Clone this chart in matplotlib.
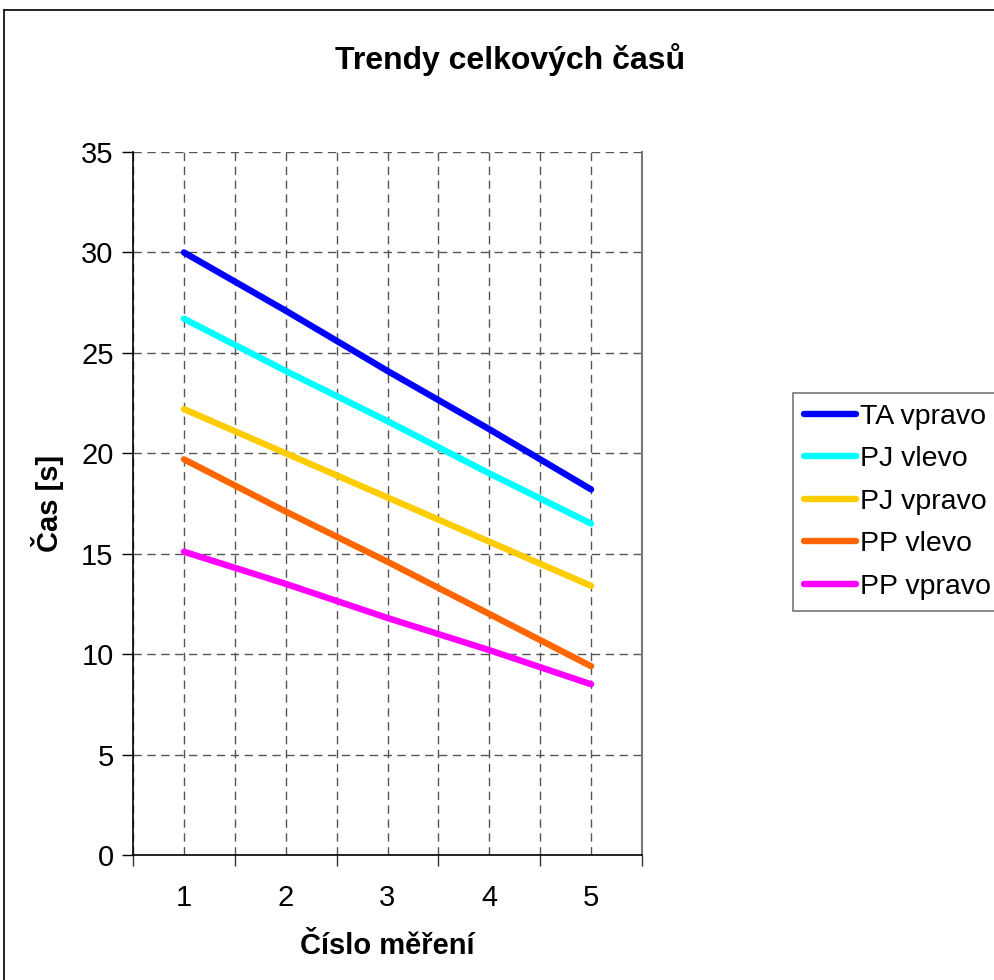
import matplotlib
matplotlib.use("Agg")
import matplotlib.pyplot as plt
from matplotlib.lines import Line2D

plt.rcParams['font.family'] = ['Liberation Sans', 'DejaVu Sans']

# data
mereni = [1, 2, 3, 4, 5]
series_names = ["TA vpravo", "PJ vlevo", "PJ vpravo", "PP vlevo", "PP vpravo"]
ta_vpravo = [30.0, 27.1, 24.1, 21.2, 18.2]
pj_vlevo = [26.7, 24.1, 21.6, 19.0, 16.5]
pj_vpravo = [22.2, 20.0, 17.8, 15.6, 13.4]
pp_vlevo = [19.7, 17.1, 14.6, 12.0, 9.4]
pp_vpravo = [15.1, 13.5, 11.8, 10.2, 8.5]
colors = ["#0000FF", "#00FFFF", "#FFCC00", "#FF6600", "#FF00FF"]

W, H = 994, 980
fig = plt.figure(figsize=(W / 100, H / 100), dpi=100)
ax = fig.add_axes([133 / W, 1 - 855 / H, (642 - 133) / W, (855 - 152) / H])

for vals, name, c in zip([ta_vpravo, pj_vlevo, pj_vpravo, pp_vlevo, pp_vpravo], series_names, colors):
    ax.plot(mereni, vals, color=c, lw=4.6, solid_capstyle='round', label=name)

ax.set_xlim(0.5, 5.5)
ax.set_ylim(0, 35)
ax.set_yticks(range(0, 36, 5))
ax.set_xticks(mereni)
ax.set_xticks([0.5, 1.5, 2.5, 3.5, 4.5, 5.5], minor=True)

grid_kw = dict(color='#555555', lw=1.0, linestyle=(0, (6, 4)))
ax.grid(True, which='major', axis='both', **grid_kw)
ax.grid(True, which='minor', axis='x', **grid_kw)
ax.set_axisbelow(True)

# ticks: category boundaries get tick marks, labels at centers
ax.tick_params(axis='x', which='major', length=0, labelsize=21, pad=21)
ax.tick_params(axis='x', which='minor', length=8, width=1, direction='out', color='#333333')
ax.tick_params(axis='y', length=8, width=1, direction='out', labelsize=21, pad=6)

ax.spines['top'].set_visible(False)
ax.spines['right'].set_color('#777777')
ax.spines['right'].set_linewidth(1.5)
ax.spines['left'].set_linewidth(1.2)
ax.spines['bottom'].set_linewidth(1.2)

ax.set_xlabel("Číslo měření", fontsize=21, fontweight='bold', labelpad=14)
ax.set_ylabel("Čas [s]", fontsize=21, fontweight='bold', labelpad=12)
fig.text(510 / W, 1 - 60 / H, "Trendy celkových časů", ha='center', va='center',
         fontsize=23, fontweight='bold')

leg = fig.legend(loc='upper left', bbox_to_anchor=(793 / W, 1 - 393 / H),
                 fontsize=20.5, frameon=True, fancybox=False, handlelength=1.85,
                 handletextpad=0.12, labelspacing=0.58, borderpad=0.38,
                 borderaxespad=0)
leg.get_frame().set_edgecolor('#555555')
leg.get_frame().set_linewidth(1.2)

# outer chart border
fig.add_artist(Line2D([4 / W, 4 / W], [0, 1 - 10 / H], color='black', lw=1.2))
fig.add_artist(Line2D([4 / W, 1], [1 - 10 / H, 1 - 10 / H], color='black', lw=1.2))

fig.savefig("out.png", dpi=100)
